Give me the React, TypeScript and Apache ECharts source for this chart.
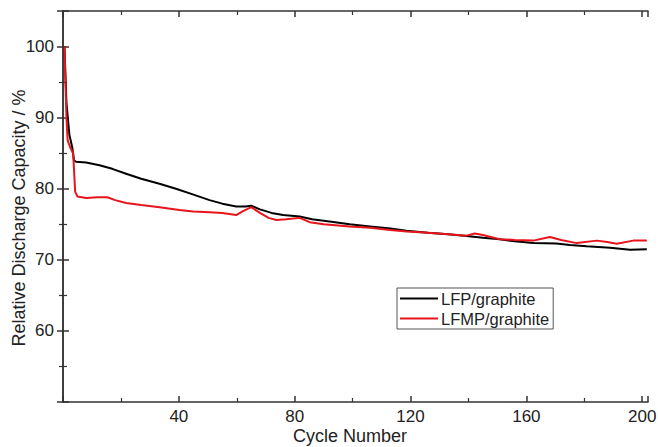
import React, { useEffect, useRef } from "react";
import * as echarts from "echarts";

const lfpCycles = [0.5, 1.2, 2.2, 3.2, 3.8, 4.5, 8, 12.6, 17, 21.8, 27, 33.3, 39, 44.8, 50.6, 55, 59.8, 63, 65, 68, 72, 76, 81.7, 86, 92, 99, 106, 113, 118.6, 126, 133, 139.3, 145, 150.8, 156, 162.4, 170.4, 175, 180.8, 188.9, 195.8, 201.6];
const lfpValues = [100, 92, 87.6, 85.8, 84, 83.8, 83.7, 83.3, 82.8, 82.1, 81.4, 80.7, 80.0, 79.2, 78.4, 77.9, 77.5, 77.5, 77.6, 77.1, 76.6, 76.3, 76.1, 75.7, 75.4, 75.0, 74.7, 74.4, 74.1, 73.8, 73.6, 73.35, 73.1, 72.9, 72.6, 72.35, 72.3, 72.1, 71.9, 71.7, 71.4, 71.5];

const lfmpCycles = [0.5, 1.2, 1.6, 2.5, 3.5, 4.2, 5, 8, 12, 15.3, 18, 21.8, 27, 33.3, 40.2, 45, 50.6, 55, 59.8, 62, 65, 68, 71, 73.7, 77, 81.7, 85.2, 90, 99, 106, 113, 118.6, 126, 133, 139.3, 142.2, 145, 150.8, 156, 162.4, 168.1, 172, 177.4, 184.3, 188, 191.2, 196.9, 201.6];
const lfmpValues = [100, 90, 86.8, 85.8, 85, 79.6, 78.9, 78.7, 78.8, 78.8, 78.4, 78.0, 77.7, 77.4, 77.0, 76.8, 76.7, 76.6, 76.3, 76.8, 77.4, 76.6, 75.9, 75.6, 75.7, 75.9, 75.3, 75.0, 74.7, 74.5, 74.2, 74.0, 73.8, 73.6, 73.4, 73.7, 73.5, 72.9, 72.8, 72.7, 73.2, 72.8, 72.35, 72.7, 72.5, 72.25, 72.7, 72.7];

const seriesNames = ["LFP/graphite", "LFMP/graphite"];
const xTickLabels = [40, 80, 120, 160, 200];
const yTickLabels = [60, 70, 80, 90, 100];
const xTitle = "Cycle Number";
const yTitle = "Relative Discharge Capacity / %";

const FONT = "'Liberation Sans', Arial, sans-serif";
const AXIS_COLOR = "#333";
const TEXT_COLOR = "#222";

export default function App() {
  const ref = useRef<HTMLDivElement>(null);
  useEffect(() => {
    if (!ref.current) return;
    const chart = echarts.init(ref.current, undefined, { renderer: "svg" });
    const axisLine = { show: true, lineStyle: { color: AXIS_COLOR, width: 1.5 } };
    const axisTick = { show: true, inside: true, length: 6, lineStyle: { color: AXIS_COLOR, width: 1.5 } };
    const minorTick = { show: true, splitNumber: 2, length: 4, lineStyle: { color: AXIS_COLOR, width: 1.2 } };
    chart.setOption({
      animation: false,
      backgroundColor: "#fff",
      grid: { left: 63, top: 11, right: 10, bottom: 45, containLabel: false, outerBoundsMode: "none" },
      graphic: [
        {
          type: "text",
          x: 19,
          y: 218,
          rotation: Math.PI / 2,
          style: {
            text: yTitle,
            fontFamily: FONT,
            fontSize: 18,
            fill: TEXT_COLOR,
            align: "center",
            verticalAlign: "middle",
          },
        },
        {
          type: "text",
          x: 350,
          y: 436,
          style: {
            text: xTitle,
            fontFamily: FONT,
            fontSize: 18,
            fill: TEXT_COLOR,
            align: "center",
            verticalAlign: "middle",
          },
        },
      ],
      legend: {
        data: seriesNames,
        orient: "vertical",
        left: 397,
        top: 288,
        width: 161,
        borderColor: "#555",
        borderWidth: 1,
        borderRadius: 0,
        padding: [2, 4, 2, 3],
        itemGap: 3,
        itemWidth: 38,
        itemHeight: 2,
        icon: "rect",
        textStyle: { fontFamily: FONT, fontSize: 16.5, color: TEXT_COLOR, padding: [0, 0, 0, -2] },
      },
      xAxis: [
        {
          type: "value",
          min: 0,
          max: 202,
          interval: 40,
          axisLine,
          axisTick,
          minorTick,
          splitLine: { show: false },
          axisLabel: {
            fontFamily: FONT,
            fontSize: 17,
            color: TEXT_COLOR,
            margin: 6,
            formatter: (v: number) => (xTickLabels.includes(v) ? String(v) : ""),
          },
        },
        {
          type: "value",
          position: "top",
          min: 0,
          max: 202,
          interval: 40,
          axisLine,
          axisTick,
          minorTick,
          splitLine: { show: false },
          axisLabel: { show: false },
        },
      ],
      yAxis: [
        {
          type: "value",
          min: 50,
          max: 105,
          interval: 10,
          axisLine,
          axisTick,
          minorTick,
          splitLine: { show: false },
          axisLabel: {
            fontFamily: FONT,
            fontSize: 17,
            color: TEXT_COLOR,
            margin: 9,
            formatter: (v: number) => (yTickLabels.includes(v) ? String(v) : ""),
          },
        },
        {
          type: "value",
          position: "right",
          min: 50,
          max: 105,
          interval: 10,
          axisLine,
          axisTick,
          minorTick,
          splitLine: { show: false },
          axisLabel: { show: false },
        },
      ],
      series: [
        {
          name: seriesNames[0],
          type: "line",
          symbol: "none",
          data: lfpCycles.map((c, i) => [c, lfpValues[i]]),
          lineStyle: { color: "#000", width: 2 },
          itemStyle: { color: "#000" },
        },
        {
          name: seriesNames[1],
          type: "line",
          symbol: "none",
          data: lfmpCycles.map((c, i) => [c, lfmpValues[i]]),
          lineStyle: { color: "#e8141b", width: 2 },
          itemStyle: { color: "#e8141b" },
        },
      ],
    });
    return () => chart.dispose();
  }, []);
  return <div ref={ref} style={{ width: 658, height: 447, position: "fixed", left: 0, top: 0 }} />;
}
